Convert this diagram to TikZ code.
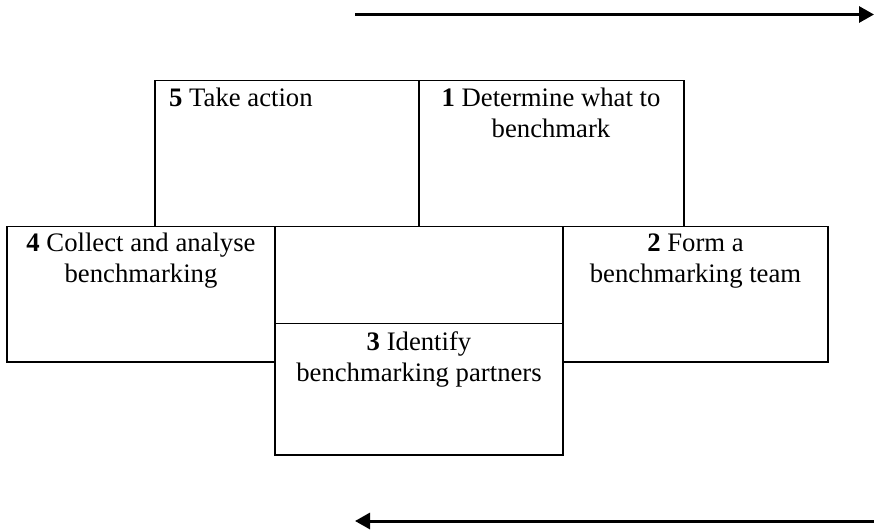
\documentclass[tikz,border=0pt]{standalone}
\usepackage{fontspec}
\setmainfont{Liberation Serif}
\usetikzlibrary{arrows.meta}
\tikzset{
  boxnode/.style={draw=black, line width=1.5pt, inner sep=0pt},
  thinline/.style={draw=black, line width=0.8pt},
  txt/.style={font=\fontsize{26.7}{31}\selectfont, inner sep=0pt, align=center, anchor=base},
  flowarrow/.style={draw=black, line width=3pt, -{Triangle[length=15pt,width=16pt]}}
}
\begin{document}
\begin{tikzpicture}[x=1pt,y=-1pt]
\useasboundingbox (0,0) rectangle (874,530);
% arrows
\coordinate (ta) at (355,14.5);
\coordinate (tb) at (874,14.5);
\draw[flowarrow] (ta) -- (tb);
\coordinate (ba) at (874,521);
\coordinate (bb) at (355,521);
\draw[flowarrow] (ba) -- (bb);
% boxes
\node[boxnode, minimum width=264pt, minimum height=146pt] (b5) at (287,153.5) {};
\node[boxnode, minimum width=265pt, minimum height=146pt] (b1) at (551.5,153.5) {};
\node[boxnode, minimum width=268pt, minimum height=135.5pt] (b4) at (141,294.25) {};
\node[boxnode, minimum width=265pt, minimum height=135.5pt] (b2) at (695.5,294.25) {};
\node[inner sep=0pt, minimum width=288pt, minimum height=131pt] (b3) at (419,389.5) {};
\draw[thinline] (b3.north west) -- (b3.north east);
\draw[boxnode] (b3.north west) -- (b3.south west) -- (b3.south east) -- (b3.north east);
% texts
\node[txt, anchor=base west] (t5) at (169,106) {\textbf{5} Take action};
\node[txt] (t1) at (551,137) {\textbf{1} Determine what to\\benchmark};
\node[txt] (t4) at (141,282.5) {\textbf{4} Collect and analyse\\benchmarking};
\node[txt] (t2) at (695.5,282) {\textbf{2} Form a\\benchmarking team};
\node[txt] (t3) at (419,381) {\textbf{3} Identify\\benchmarking partners};
\end{tikzpicture}
\end{document}
